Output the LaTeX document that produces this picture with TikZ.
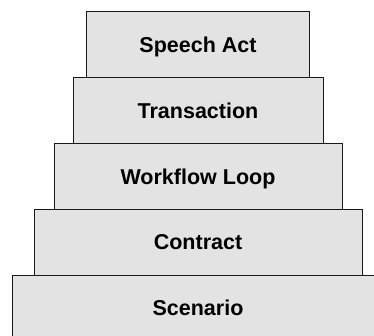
\documentclass[tikz,border=0pt]{standalone}
\usepackage{fontspec}
\setmainfont{Liberation Sans}
\usetikzlibrary{positioning}
\definecolor{layergray}{HTML}{E3E3E3}
\tikzset{layer/.style={draw=black!90,fill=layergray,line width=1pt,outer sep=0pt,inner sep=0pt,
        minimum height=65.75pt,text height=15.4pt,text depth=0pt,
        font=\fontsize{21.5}{25}\selectfont\bfseries}}

\begin{document}
\begin{tikzpicture}[x=1pt,y=1pt,node distance=0pt]
                    \useasboundingbox (0,0) rectangle (374,335);
                    \clip (0,0) rectangle (374,335);

                        \node[layer,minimum width=372pt] (scen) at (198,27.125) {Scenario};
                        \node[layer,minimum width=328pt] (contr) [above=of scen] {Contract};
                        \node[layer,minimum width=288pt] (wloop) [above=of contr] {Workflow Loop};
                        \node[layer,minimum width=250pt] (trans) [above=of wloop] {Transaction};
                        \node[layer,minimum width=223pt] (sact) [above=of trans] {Speech Act};
            \end{tikzpicture}
\end{document}
